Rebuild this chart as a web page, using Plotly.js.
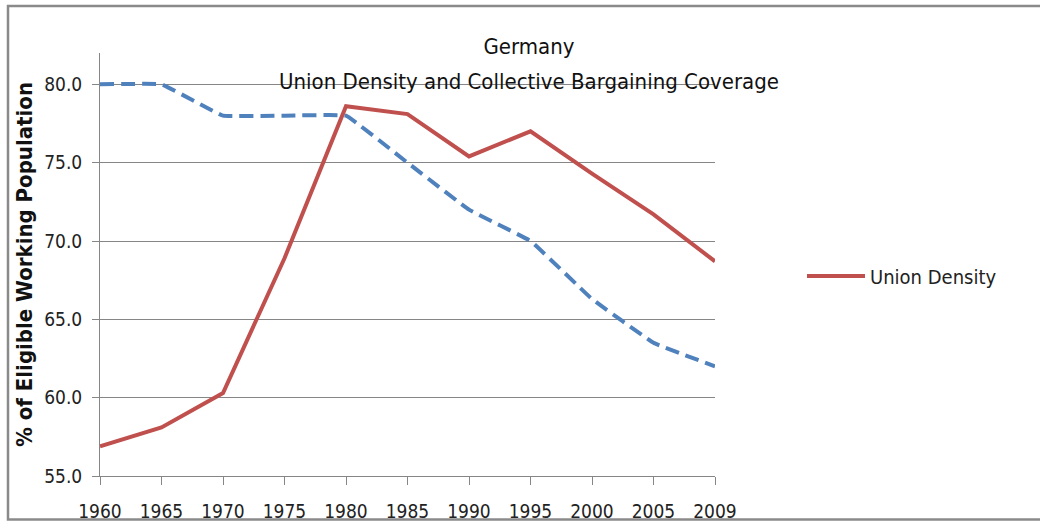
<!DOCTYPE html>
<html>
<head>
<meta charset="utf-8">
<script src="https://cdn.plot.ly/plotly-3.0.1.min.js"></script>
<style>
  html, body { margin: 0; padding: 0; background: #fff; }
  #chart { width: 1040px; height: 521px; }
</style>
</head>
<body>
<div id="chart"></div>
<script>
const years = ["1960", "1965", "1970", "1975", "1980", "1985", "1990", "1995", "2000", "2005", "2009"];
const unionDensity = [56.9, 58.1, 60.3, 68.9, 78.6, 78.1, 75.4, 77.0, 74.3, 71.7, 68.7];
const bargainingCoverage = [80.0, 80.0, 78.0, 78.0, 78.0, 75.0, 72.0, 70.0, 66.3, 63.5, 62.0];
const yTicks = [55, 60, 65, 70, 75, 80];
const titleText = "Germany";
const subtitleText = "Union Density and Collective Bargaining Coverage";
const yTitle = "% of Eligible Working Population";

const FONT = '"Liberation Sans Narrow", "DejaVu Sans Condensed", "Liberation Sans", sans-serif';
const W = 1040, H = 521;
const L = 100, R = 325, T = 53, B = 45;
const pw = W - L - R, ph = H - T - B;
const px = v => (v - L) / pw;
const py = v => (H - B - v) / ph;

const traces = [
  {
    x: years, y: bargainingCoverage, type: 'scatter', mode: 'lines',
    name: 'Collective Bargaining Coverage', showlegend: false,
    line: { color: '#4F81BD', width: 4, dash: '14px,7px', shape: 'spline', smoothing: 0.2 },
    hoverinfo: 'x+y'
  },
  {
    x: years, y: unionDensity, type: 'scatter', mode: 'lines',
    name: 'Union Density',
    line: { color: '#C0504D', width: 4 },
    hoverinfo: 'x+y'
  }
];

const layout = {
  width: W, height: H,
  margin: { l: L, r: R, t: T, b: B, pad: 0 },
  paper_bgcolor: '#fff', plot_bgcolor: '#fff',
  font: { family: FONT, color: '#222', size: 20 },
  title: {
    text: titleText,
    font: { family: FONT, size: 22, color: '#111' },
    xref: 'paper', x: px(529), xanchor: 'center',
    yref: 'container', y: 1 - 46 / H, yanchor: 'middle'
  },
  annotations: [{
    text: subtitleText, showarrow: false,
    xref: 'paper', yref: 'paper', x: px(529), y: py(81),
    xanchor: 'center', yanchor: 'middle',
    font: { family: FONT, size: 22, color: '#111' }
  }],
  xaxis: {
    type: 'category', range: [0, 10],
    tickvals: years, ticktext: years,
    showline: true, linecolor: '#868686', linewidth: 1,
    ticks: 'outside', ticklen: 8, tickcolor: '#868686', tickwidth: 1,
    tickfont: { family: FONT, size: 19, color: '#222' },
    ticklabelstandoff: 10,
    showgrid: false, zeroline: false, fixedrange: true
  },
  yaxis: {
    range: [55, 82], tickvals: yTicks, ticktext: yTicks.map(v => v.toFixed(1)),
    showline: true, linecolor: '#868686', linewidth: 1,
    ticks: 'outside', ticklen: 7, tickcolor: '#868686', tickwidth: 1,
    tickfont: { family: FONT, size: 19, color: '#222' },
    ticklabelstandoff: 6,
    showgrid: true, gridcolor: '#868686', gridwidth: 1,
    zeroline: false, fixedrange: true,
    title: {
      text: '<b>' + yTitle + '</b>',
      font: { family: FONT, size: 22, color: '#111' },
      standoff: 5
    }
  },
  legend: {
    x: px(802), xanchor: 'left', y: py(276), yanchor: 'middle',
    font: { family: FONT, size: 20, color: '#222' },
    bgcolor: 'rgba(0,0,0,0)', borderwidth: 0, itemwidth: 58
  },
  shapes: [{
    type: 'rect', xref: 'paper', yref: 'paper',
    x0: px(8), x1: px(1060), y0: py(519.5), y1: py(6),
    line: { color: '#8a8a8a', width: 2.5 }, fillcolor: 'rgba(0,0,0,0)', layer: 'below'
  }],
  showlegend: true
};

Plotly.newPlot('chart', traces, layout, { displayModeBar: false, staticPlot: true });
</script>
</body>
</html>
